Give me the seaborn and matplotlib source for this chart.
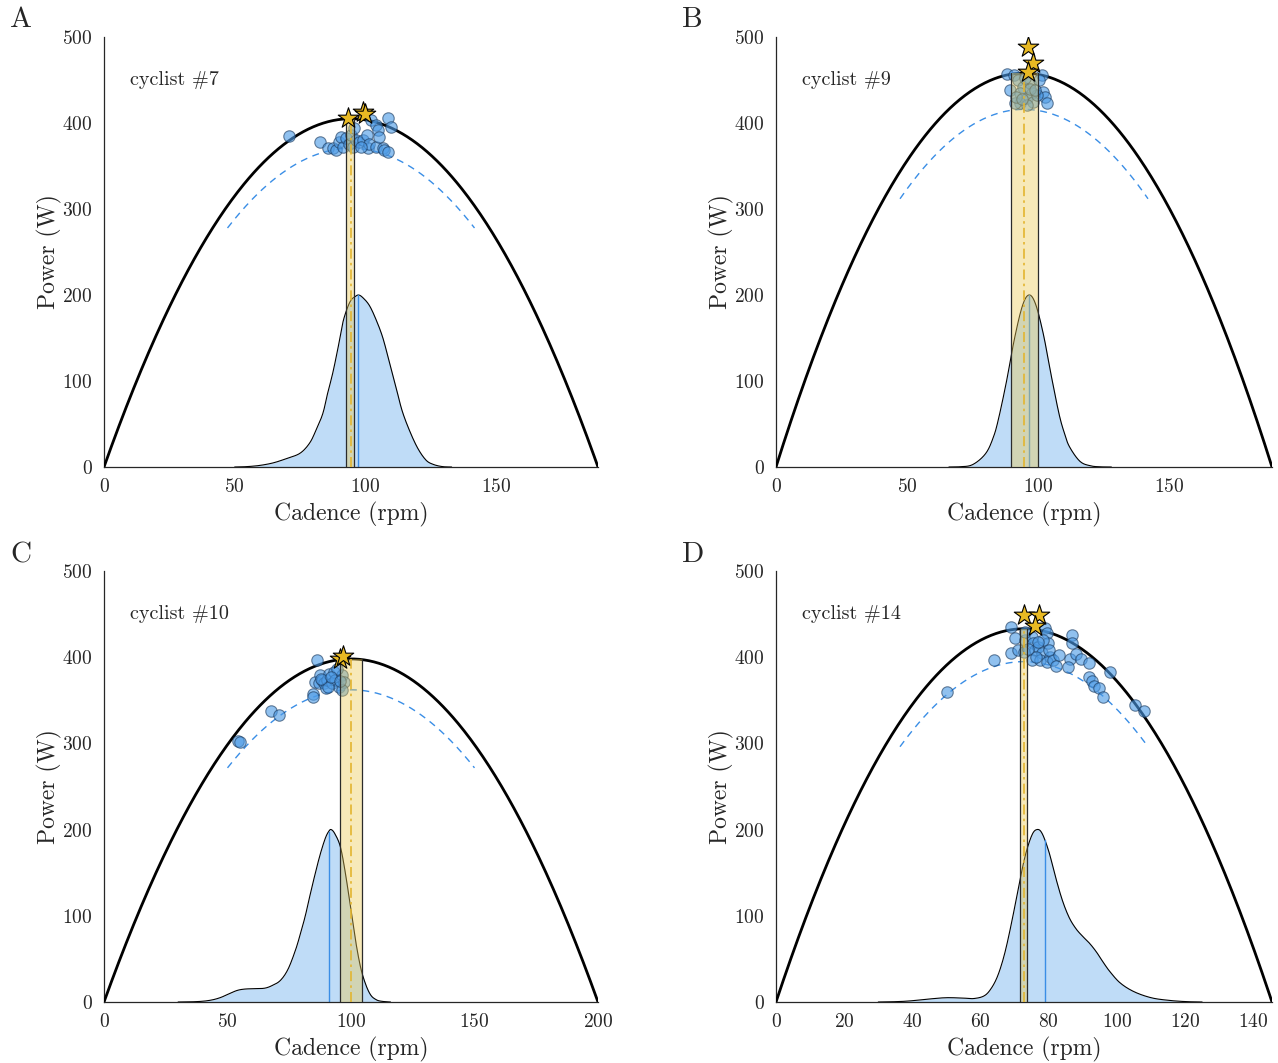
import numpy as np
import matplotlib
matplotlib.use("Agg")
import matplotlib.pyplot as plt
import seaborn as sns

sns.set_style("white")
plt.rcParams["font.family"] = ["cmr10", "DejaVu Serif"]
plt.rcParams["mathtext.fontset"] = "cm"
plt.rcParams["axes.formatter.use_mathtext"] = True
plt.rcParams["axes.unicode_minus"] = False

# ---- per-cyclist model parameters -------------------------------------------
panel_letters = ["A", "B", "C", "D"]
cyclist_ids = [7, 9, 10, 14]
peak_power = [405, 458, 398, 433]            # W, apex of the power-cadence parabola
max_cadence = [189.0, 189.3, 200.0, 145.5]   # rpm, zero-power intercept
band_low = [92.7, 89.5, 95.7, 71.6]          # rpm, optimal-cadence interval
band_high = [95.8, 99.9, 104.3, 73.6]
kde_marker = [97.3, 96.5, 90.9, 78.9]        # rpm, blue reference line on the density
fatigue_ratio = [0.915, 0.908, 0.91, 0.912]  # dashed curve relative to the fit
x_ticks = [[0, 50, 100, 150], [0, 50, 100, 150],
           [0, 50, 100, 150, 200], [0, 20, 40, 60, 80, 100, 120, 140]]

# ---- observed sprints (cadence rpm, power W) ---------------------------------
cad_7 = [70.7, 82.7, 85.6, 87.5, 88.8, 90.1, 90.7, 91.3, 92.6, 93.9, 94.5, 95.1,
         95.8, 96.4, 97.7, 99.0, 100.5, 100.9, 101.5, 102.2, 104.0, 104.0, 104.7,
         105.3, 106.6, 107.2, 108.5, 108.5, 109.8, 98.5]
pow_7 = [385, 378, 371, 370.5, 368.6, 378, 384, 372.4, 382, 376, 386, 372.4,
         393.8, 380, 378, 380, 386, 371, 376, 403.5, 372.5, 397.7, 391.9,
         384, 370.5, 368.6, 405.4, 366.6, 395.7, 372]

cad_9 = [88.1, 90.8, 89.3, 92.5, 94.4, 93.1, 96.9, 97.6, 95.7, 93.1, 91.2, 98.2,
         101.4, 102.0, 102.7, 103.3, 95.7, 99.5, 95.0, 100.5, 91.5, 97.0, 94.0, 99.0]
pow_9 = [457, 455.8, 438, 450, 442, 434.5, 446, 434.5, 428.7, 422.9, 422.9, 424.8,
         455.8, 436, 430.6, 423, 421, 432.6, 452, 450, 430, 440, 428, 438]

cad_10 = [54.4, 55.0, 67.7, 71.0, 84.8, 84.8, 85.6, 86.4, 86.9, 87.6, 88.3, 89.0,
          89.7, 90.3, 91.0, 92.4, 93.0, 93.7, 95.0, 96.4, 97.1, 96.4, 94.3, 90.5,
          88.0, 92.0, 95.5]
pow_10 = [302.8, 301.6, 337.6, 333, 357, 354, 371.6, 396.8, 369.7, 379.4, 374, 369.7,
          364, 373.5, 381, 369.7, 383, 373.5, 365.8, 379.4, 371.6, 362, 386, 366,
          375, 377, 372]

cad_14 = [50.1, 63.9, 68.9, 70.1, 68.9, 70.9, 73.0, 72.8, 75.0, 75.5, 76.0, 75.0,
          76.9, 77.9, 78.9, 79.4, 77.4, 79.8, 80.4, 79.4, 81.3, 82.0, 78.4, 76.4,
          86.9, 86.9, 86.2, 88.0, 89.6, 91.8, 85.7, 97.9, 91.8, 92.8, 93.3, 94.8,
          96.0, 105.3, 108.0, 73.0, 74.0, 77.0, 80.0, 83.0]
pow_14 = [360, 396.8, 434.7, 421.9, 405.2, 408.4, 420, 406.4, 423.8, 416.1, 408.4,
          396.8, 412.2, 404.5, 433.5, 427.7, 396.8, 416.1, 400.6, 394.8, 396.8, 389.8,
          420, 400.6, 425.8, 416.8, 397.6, 403.4, 397.6, 392.9, 388.3, 382.5, 377.4,
          372.7, 366.6, 363.9, 354.2, 344.5, 337.6, 429.6, 410, 418, 408, 402]

# best efforts (stars)
best_cad = [[93.5, 98.9, 100.0], [96.2, 98.1, 96.2], [95.5, 96.6], [72.7, 77.1, 76.0]]
best_pow = [[405.8, 412.8, 410.0], [488, 470, 459], [398, 401], [449, 449, 436]]

# ---- cadence density, scaled to a 200 W peak ---------------------------------
kde_x_7 = [50, 55, 60, 65, 70, 75, 78.6, 81, 83.7, 85.5, 87.5, 89.5, 91.3, 93, 94.5,
           96, 97.4, 99, 101.5, 104, 106.6, 109, 111.7, 114, 116.8, 120, 123.2, 126,
           129.4, 133]
kde_y_7 = [0, 0.5, 2, 5, 10, 16, 27.5, 42, 62, 85, 109, 138, 167, 184, 194, 198, 200,
           197, 188, 172, 151, 124, 93, 66, 43, 22, 8, 3, 0.5, 0]
kde_x_9 = [66, 70, 75, 80, 83, 85, 88, 91, 94, 96.5, 99, 102, 105, 108, 110, 112, 116,
           120, 124, 128]
kde_y_9 = [0, 0.3, 2.7, 15.6, 35, 57, 100, 149, 187, 200, 190, 155, 107, 62, 40, 23.6,
           6.6, 1.4, 0.2, 0]
kde_x_10 = [30, 38, 43, 47, 51, 54, 57, 61, 65, 68, 71.4, 74.5, 77.5, 79.5, 81.5, 83.5,
            85.6, 87.6, 89.6, 91, 92, 93.5, 95.7, 97.7, 99.8, 101.8, 103.9, 106, 108,
            110, 112, 116]
kde_y_10 = [0, 0.5, 2, 5, 10, 13.5, 15, 15.5, 16, 19, 25, 38, 60, 79, 100, 125, 150,
            172, 190, 198, 200, 195, 180, 150, 110, 72, 40, 20, 8, 3, 1, 0]
kde_x_14 = [30, 36, 40, 45, 50, 55, 58, 61, 63, 65, 67, 69, 71, 73, 75, 76.5, 78, 80,
            82, 84, 86, 88, 90, 92, 94, 96, 98, 101, 105, 110, 115, 120, 125]
kde_y_14 = [0, 0.5, 1.5, 3.5, 5, 4.5, 4, 7, 15, 30, 55, 90, 130, 168, 193, 200, 196,
            175, 145, 118, 98, 85, 76, 68, 58, 46, 35, 22, 12, 5, 2, 0.5, 0]

cadences = [cad_7, cad_9, cad_10, cad_14]
powers = [pow_7, pow_9, pow_10, pow_14]
kde_xs = [kde_x_7, kde_x_9, kde_x_10, kde_x_14]
kde_ys = [kde_y_7, kde_y_9, kde_y_10, kde_y_14]

# ---- colours -----------------------------------------------------------------
point_face = "#4d9be6"
point_edge = "#1b3a5e"
kde_fill = "#bfdcf7"
dash_blue = "#3a8ee6"
band_fill = "#edc850"
band_line = "#e3b530"
star_face = "#e8b923"


def smooth_path(xk, yk, n=12):
    """Catmull-Rom path through the density knots, for a smooth outline."""
    xk = np.asarray(xk, float); yk = np.asarray(yk, float)
    px = np.concatenate([[2 * xk[0] - xk[1]], xk, [2 * xk[-1] - xk[-2]]])
    py = np.concatenate([[yk[0]], yk, [yk[-1]]])
    ox, oy = [], []
    t = np.linspace(0, 1, n, endpoint=False)
    for k in range(1, len(px) - 2):
        for arr, out in ((px, ox), (py, oy)):
            p0, p1, p2, p3 = arr[k - 1], arr[k], arr[k + 1], arr[k + 2]
            out.extend(0.5 * (2 * p1 + (-p0 + p2) * t
                              + (2 * p0 - 5 * p1 + 4 * p2 - p3) * t ** 2
                              + (-p0 + 3 * p1 - 3 * p2 + p3) * t ** 3))
    ox.append(xk[-1]); oy.append(yk[-1])
    return np.array(ox), np.clip(np.array(oy), 0, None)


fig = plt.figure(figsize=(12.78, 10.63), dpi=100)
W, H = 1278.0, 1063.0
boxes = [(104, 37, 598, 467), (776, 37, 1272, 467),
         (104, 571, 598, 1002), (776, 571, 1272, 1002)]

for i in range(4):
    l, t, r, b = boxes[i]
    ax = fig.add_axes([l / W, 1 - b / H, (r - l) / W, (b - t) / H])
    xmax = max_cadence[i]
    half = xmax / 2.0
    pmax = peak_power[i]

    # density of cadences
    kx, ky = smooth_path(kde_xs[i], kde_ys[i])
    ax.fill_between(kx, 0, ky, color=kde_fill, lw=0, zorder=1)
    ax.plot(kx, ky, color="black", lw=0.8, zorder=2)
    mk = kde_marker[i]
    ax.plot([mk, mk], [0, np.interp(mk, kx, ky)], color=dash_blue, lw=1.0, zorder=2)

    # fitted power-cadence parabola
    xs = np.linspace(0, xmax, 400)
    ax.plot(xs, pmax * (1 - ((xs - half) / half) ** 2), color="black", lw=2.0, zorder=3)
    xd = np.linspace(0.25 * xmax, 0.75 * xmax, 200)
    sns.lineplot(x=xd, y=fatigue_ratio[i] * pmax * (1 - ((xd - half) / half) ** 2),
                 ax=ax, color=dash_blue, lw=1.0, linestyle=(0, (5, 4)), zorder=3,
                 estimator=None, sort=False)

    # sprint observations
    sns.scatterplot(x=cadences[i], y=powers[i], ax=ax, s=68, color=point_face,
                    edgecolor=point_edge, linewidth=0.8, alpha=0.62, zorder=4)

    # optimal-cadence interval
    ax.fill_between([band_low[i], band_high[i]], 0, pmax, color=band_fill, alpha=0.4,
                    lw=0, zorder=5)
    for xb in (band_low[i], band_high[i]):
        ax.plot([xb, xb], [0, pmax], color="#2b2b2b", lw=0.9, zorder=5)
    ax.plot([half, half], [0, pmax], color=band_line, lw=1.2,
            linestyle=(0, (6, 2.5, 1.5, 2.5)), zorder=5)

    # best efforts
    sns.scatterplot(x=best_cad[i], y=best_pow[i], ax=ax, marker="*", s=240,
                    color=star_face, edgecolor="black", linewidth=0.8, zorder=6)

    ax.set_xlim(0, xmax)
    ax.set_ylim(0, 500)
    ax.set_xticks(x_ticks[i])
    ax.set_yticks([0, 100, 200, 300, 400, 500])
    for s in ("top", "right"):
        ax.spines[s].set_visible(False)
    for s in ("left", "bottom"):
        ax.spines[s].set_color("#262626")
        ax.spines[s].set_linewidth(0.9)
    ax.tick_params(direction="in", length=5, width=0.8, color="#555555",
                   labelsize=14, pad=8, labelcolor="#262626")
    ax.set_xlabel("Cadence (rpm)", fontsize=17, labelpad=4)
    ax.set_ylabel("Power (W)", fontsize=17, labelpad=0)
    ax.text(0.053, 0.9, f"cyclist #{cyclist_ids[i]}", transform=ax.transAxes,
            fontsize=14.5, va="center", ha="left")
    ax.set_facecolor("white")

letter_pos = [(10, 20), (682, 20), (10, 555), (682, 555)]
for letter, (px, py) in zip(panel_letters, letter_pos):
    fig.text(px / W, 1 - py / H, letter, fontsize=21, va="center", ha="left")

fig.savefig("out.png", dpi=100, facecolor="white")
